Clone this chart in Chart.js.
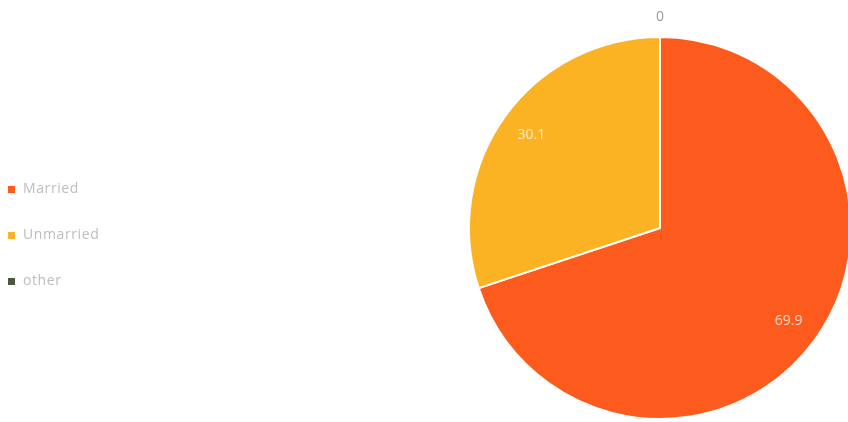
<!DOCTYPE html>
<html lang="en">
<head>
    <meta charset="UTF-8">
    <title>Marital status</title>
    <script src="https://cdn.jsdelivr.net/npm/chart.js"></script>
    <style>
        body {
            margin: 0;
            background: #fff;
            font-family: 'Open Sans', sans-serif;
        }

        #wrap {
            position: relative;
            width: 848px;
            height: 422px;
            overflow: hidden;
        }

        #legend {
            position: absolute;
            left: 8px;
            top: 176px;
            margin: 0;
            padding: 0;
            list-style: none;
        }

        #legend li {
            height: 46px;
            line-height: 24px;
            font-size: 14px;
            color: #bdbdbd;
            letter-spacing: 0.6px;
        }

        #legend span {
            display: inline-block;
            width: 7px;
            height: 7px;
            margin-right: 8px;
            vertical-align: middle;
        }
    </style>
</head>
<body>
    <div id="wrap">
        <!-- canvas a little larger than the frame so the pie can run off the right edge -->
        <canvas id="pieChart" width="856" height="426"></canvas>
        <ul id="legend"></ul>
    </div>
    <script>
        var categories = ['Married', 'Unmarried', 'other'];
        var values = [69.9, 30.1, 0];
        var colors = ['#fd5a1e', '#fbb323', '#4b573a'];

        // value labels: inside the slice, or just outside when the slice is empty
        var sliceLabels = {
            id: 'sliceLabels',
            afterDatasetsDraw: function (chart) {
                var ctx = chart.ctx;
                var meta = chart.getDatasetMeta(0);
                ctx.save();
                ctx.font = '14px "Open Sans", sans-serif';
                ctx.textAlign = 'center';
                ctx.textBaseline = 'middle';
                meta.data.forEach(function (arc, i) {
                    var v = values[i];
                    var mid = (arc.startAngle + arc.endAngle) / 2;
                    var r = v === 0 ? arc.outerRadius + 20 : arc.outerRadius * 0.83;
                    ctx.fillStyle = v === 0 ? '#9a9a9a' : 'rgba(255,255,255,0.75)';
                    ctx.fillText(String(v), arc.x + Math.cos(mid) * r, arc.y + Math.sin(mid) * r);
                });
                ctx.restore();
            }
        };

        var ctx = document.getElementById('pieChart').getContext('2d');
        new Chart(ctx, {
            type: 'pie',
            data: {
                labels: categories,
                datasets: [{
                    data: values,
                    backgroundColor: colors,
                    borderColor: '#ffffff',
                    borderWidth: 2
                }]
            },
            options: {
                responsive: false,
                animation: false,
                layout: {
                    padding: { top: 36, bottom: 6, left: 468, right: 4 }
                },
                plugins: {
                    legend: { display: false },
                    tooltip: { enabled: false }
                }
            },
            plugins: [sliceLabels]
        });

        var legend = document.getElementById('legend');
        categories.forEach(function (name, i) {
            var li = document.createElement('li');
            var box = document.createElement('span');
            box.style.background = colors[i];
            li.appendChild(box);
            li.appendChild(document.createTextNode(name));
            legend.appendChild(li);
        });
    </script>
</body>
</html>
